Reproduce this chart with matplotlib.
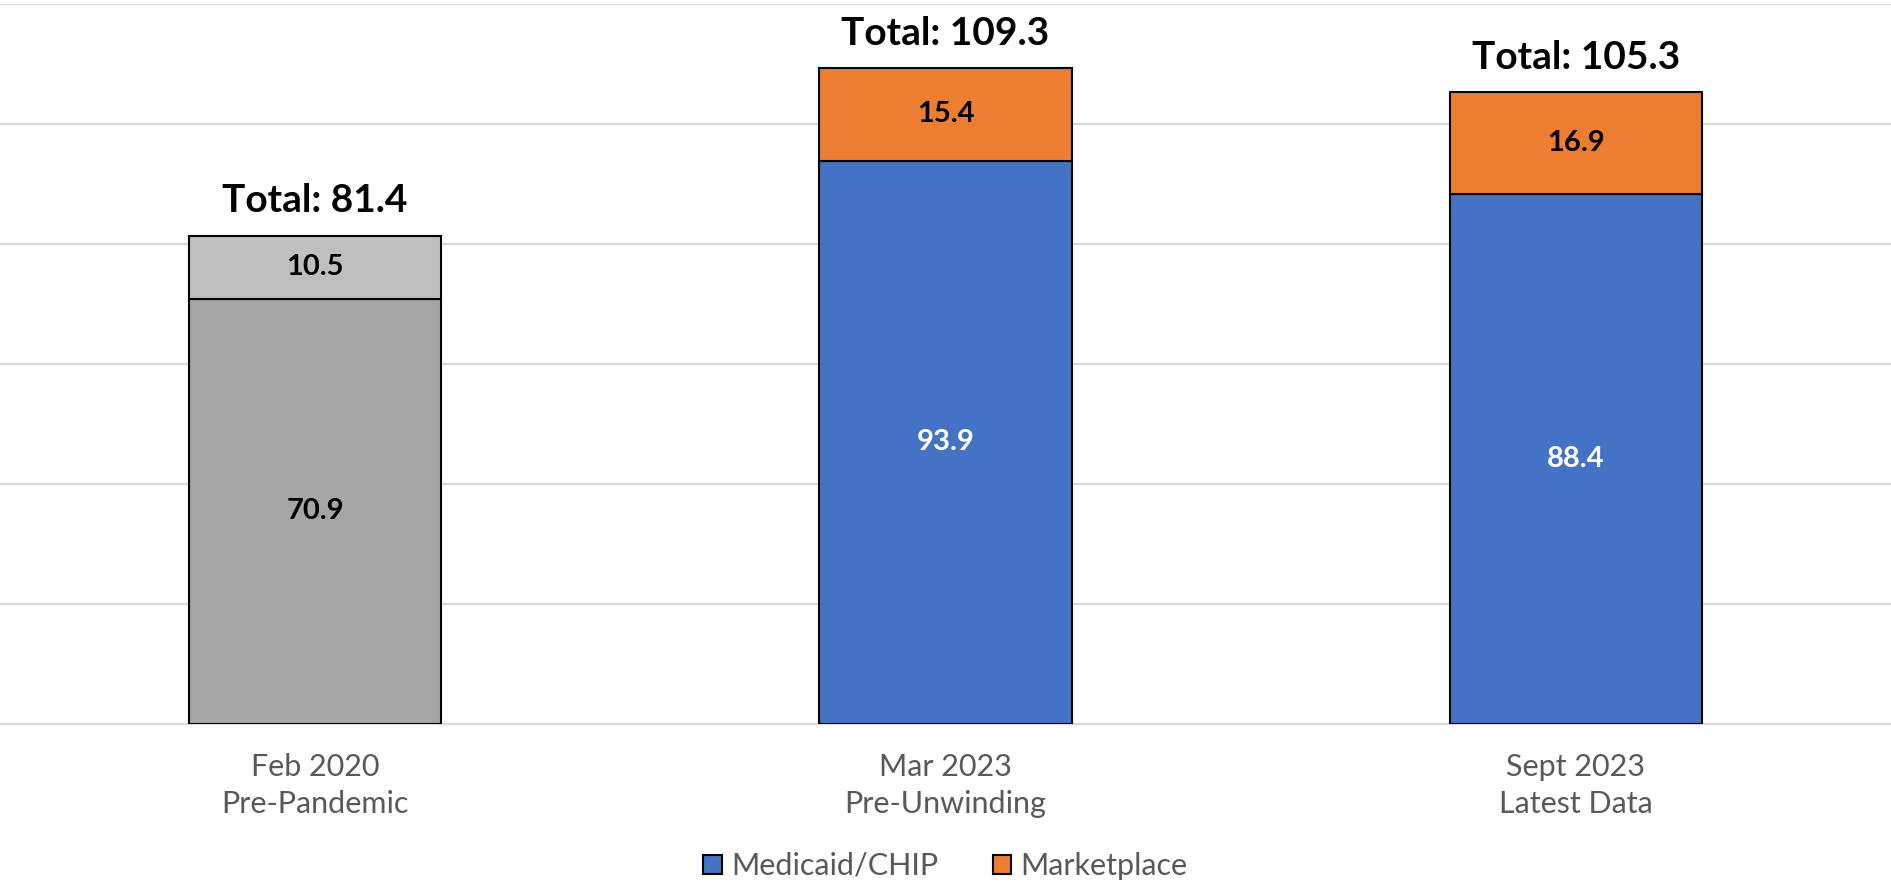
import matplotlib.pyplot as plt
from matplotlib.patches import Patch

plt.rcParams['font.family'] = ['Lato', 'DejaVu Sans']

categories = ['Feb 2020\nPre-Pandemic', 'Mar 2023\nPre-Unwinding', 'Sept 2023\nLatest Data']
medicaid = [70.9, 93.9, 88.4]
marketplace = [10.5, 15.4, 16.9]
totals = [81.4, 109.3, 105.3]

blue = '#4472C4'
orange = '#ED7D31'
bottom_colors = ['#A5A5A5', blue, blue]
top_colors = ['#BFBFBF', orange, orange]
inner_text = ['black', 'white', 'white']

fig = plt.figure(figsize=(18.91, 8.84), dpi=100)
ax = fig.add_axes([0, 0.181, 1, 0.8145])

x = range(len(categories))
ax.bar(x, medicaid, width=0.4, color=bottom_colors, edgecolor='black', linewidth=1.5, zorder=3)
ax.bar(x, marketplace, width=0.4, bottom=medicaid, color=top_colors, edgecolor='black',
       linewidth=1.5, zorder=3)

for i in x:
    ax.text(i, medicaid[i] / 2, '{}'.format(medicaid[i]), ha='center', va='center',
            fontsize=21, fontweight='bold', color=inner_text[i], zorder=4)
    ax.text(i, medicaid[i] + marketplace[i] / 2, '{}'.format(marketplace[i]), ha='center',
            va='center', fontsize=21, fontweight='bold', color='black', zorder=4)
    ax.annotate('Total: {}'.format(totals[i]), (i, totals[i]), xytext=(0, 17),
                textcoords='offset points', ha='center', va='baseline',
                fontsize=28, fontweight='bold', color='black')

ax.set_xlim(-0.5, 2.5)
ax.set_ylim(0, 120)
ax.set_yticks(range(0, 121, 20))
ax.yaxis.grid(True, color='#D9D9D9', linewidth=1.5, zorder=0)
ax.tick_params(axis='y', length=0, labelleft=False)
ax.set_xticks(list(x))
ax.set_xticklabels(categories, fontsize=22, color='#595959', linespacing=1.4)
ax.tick_params(axis='x', length=0, pad=21)
for s in ['top', 'right', 'left']:
    ax.spines[s].set_visible(False)
ax.spines['bottom'].set_color('#D9D9D9')
ax.spines['bottom'].set_linewidth(1.5)

handles = [Patch(facecolor=blue, edgecolor='black', linewidth=1.5, label='Medicaid/CHIP'),
           Patch(facecolor=orange, edgecolor='black', linewidth=1.5, label='Marketplace')]
fig.legend(handles=handles, loc='center', bbox_to_anchor=(0.5, 1 - 866 / 884), ncol=2,
           frameon=False, fontsize=22, labelcolor='#595959', handlelength=0.6,
           handleheight=0.6, handletextpad=0.3, columnspacing=1.8)

fig.savefig('out.png', dpi=100)
